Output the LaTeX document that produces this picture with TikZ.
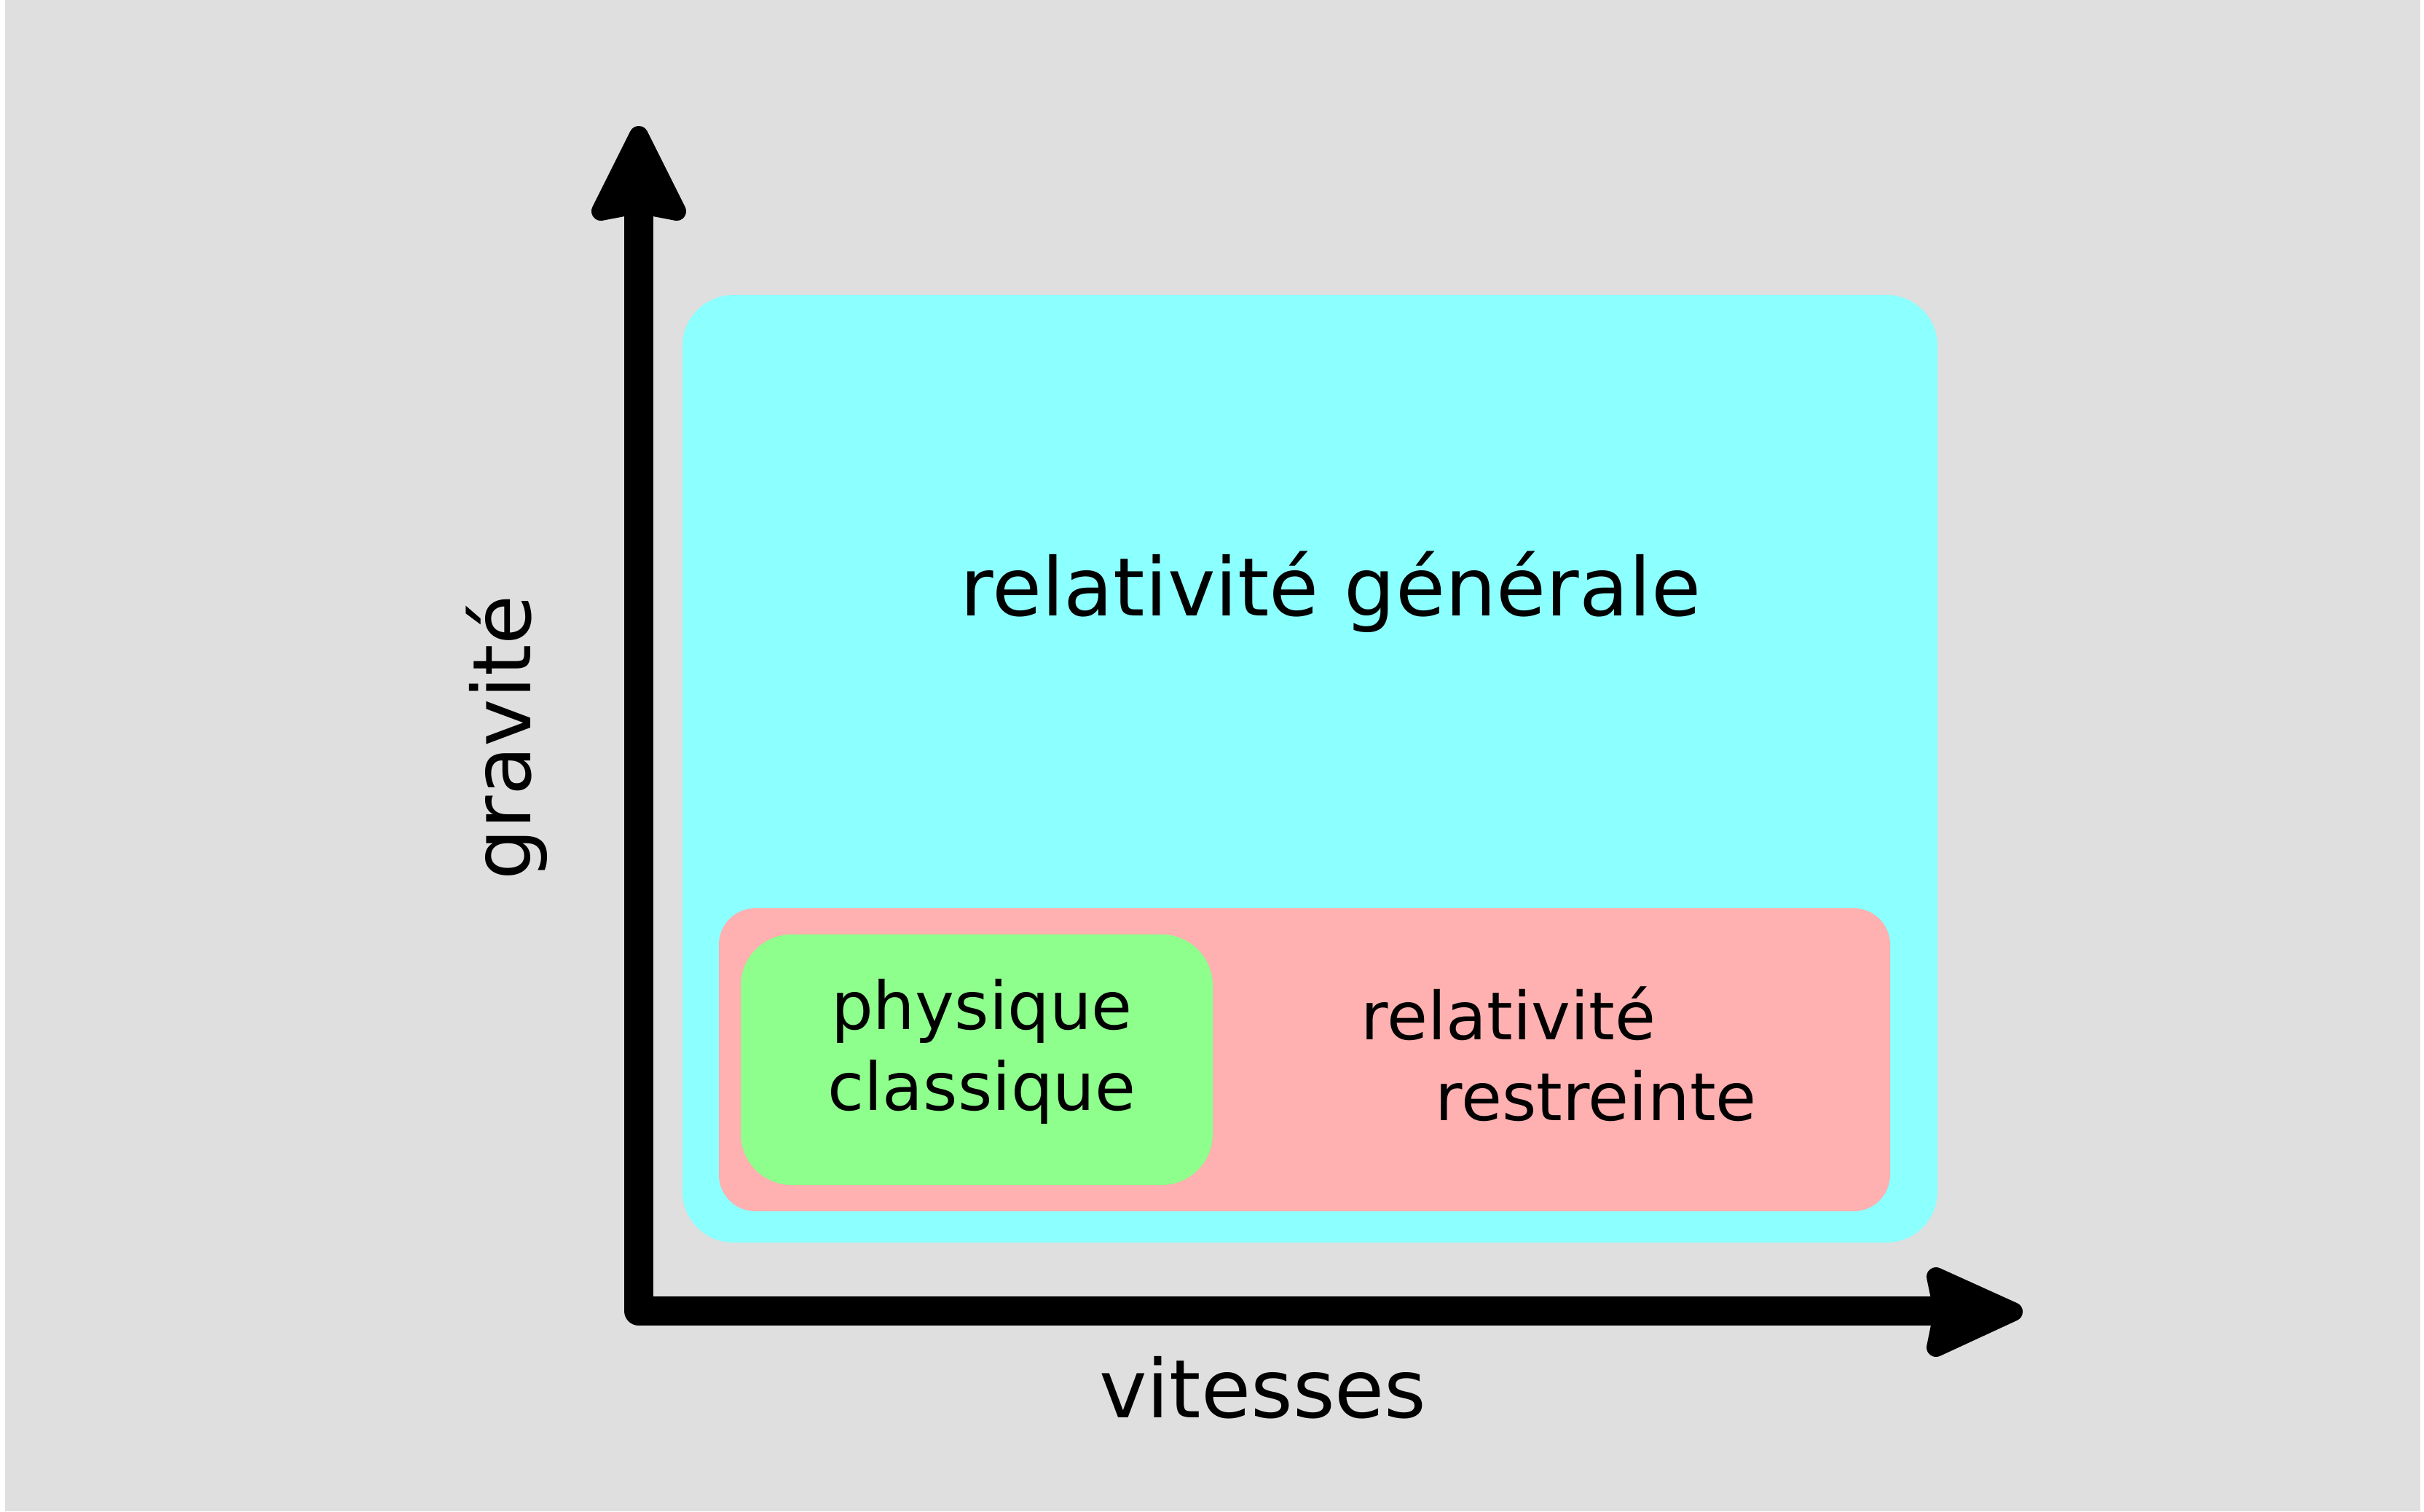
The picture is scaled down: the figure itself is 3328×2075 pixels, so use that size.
\documentclass[tikz,border=0pt]{standalone}
\usepackage{fontspec}
\setmainfont{DejaVu Sans}
\definecolor{bgc}{HTML}{DFDFDF}
\definecolor{cyanbox}{HTML}{8CFFFF}
\definecolor{pinkbox}{HTML}{FFB0B0}
\definecolor{greenbox}{HTML}{8EFF8C}
\begin{document}
\begin{tikzpicture}[x=0.01cm,y=-0.01cm,
  bigtext/.style={inner sep=0pt,font=\fontsize{31.5pt}{37pt}\selectfont},
  smalltext/.style={inner sep=0pt,font=\fontsize{25.9pt}{31.6pt}\selectfont},
  axisline/.style={line width=0.40cm,line join=round,black},
  axishead/.style={fill=black,draw=black,line width=0.26cm,line join=round}]
\useasboundingbox (0,0) rectangle (3328,2075);
\fill[white] (0,0) rectangle (3328,2075);
\fill[bgc] (7,0) rectangle (3323,2075);
% regions
\fill[cyanbox,rounded corners=0.7cm] (937,405) rectangle (2660,1706);
\fill[pinkbox,rounded corners=0.5cm] (987,1247) rectangle (2595,1663);
\fill[greenbox,rounded corners=0.7cm] (1017,1283) rectangle (1665,1627);
% axes
\coordinate (ytop) at (877,285);
\coordinate (origin) at (877,1800);
\coordinate (xend) at (2664,1800);
\draw[axisline] (ytop) -- (origin) -- (xend);
\draw[axishead] (877,186) -- (929,290) -- (877,280) -- (825,290) -- cycle;
\draw[axishead] (2764,1801) -- (2658,1850) -- (2668,1801) -- (2658,1753) -- cycle;
% labels
\node[bigtext,anchor=base] (rg) at (1827,845) {relativité générale};
\node[bigtext,anchor=base] (vit) at (1734,1946) {vitesses};
\node[bigtext,anchor=base,rotate=90] (grav) at (728,1013) {gravité};
\node[smalltext,align=center] (pc) at (1348,1444) {physique\\classique};
\node[smalltext,align=left,anchor=west] (rr) at (1868,1447) {relativité\\\hspace*{1.02cm}restreinte};
\end{tikzpicture}
\end{document}
